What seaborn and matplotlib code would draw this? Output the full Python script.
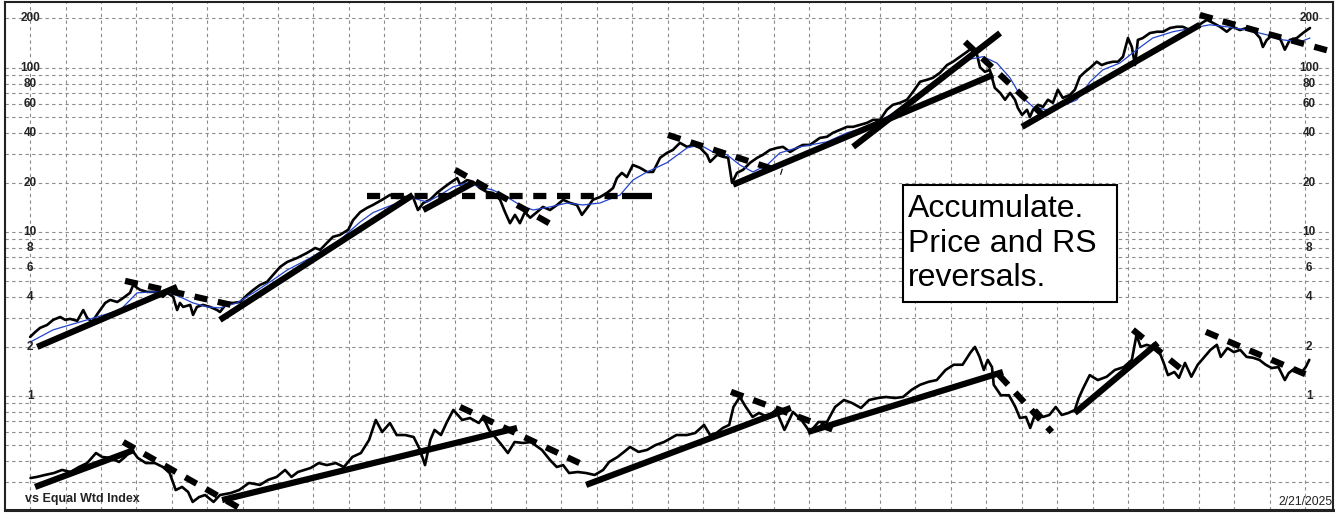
import matplotlib
matplotlib.use("Agg")
import matplotlib.pyplot as plt
import seaborn as sns
import pandas as pd
import numpy as np
from matplotlib.ticker import LogLocator, NullFormatter, FixedLocator
from matplotlib.patches import Rectangle

# ---------------- data ----------------
price_year = [1989.00,1989.14,1989.28,1989.48,1989.65,1989.85,1989.99,1990.13,1990.33,1990.50,
              1990.61,1990.75,1990.92,1991.12,1991.26,1991.46,1991.63,1991.82,1991.91,1992.02,
              1992.11,1992.30,1992.47,1992.67,1992.75,1992.87,1993.04,1993.15,1993.23,1993.32,
              1993.52,1993.60,1993.71,1993.88,1994.08,1994.28,1994.36,1994.56,1994.73,1994.93,
              1995.13,1995.30,1995.49,1995.69,1995.86,1996.06,1996.26,1996.54,1996.82,1997.05,
              1997.19,1997.38,1997.55,1997.75,1997.98,1998.12,1998.32,1998.51,1998.68,1998.94,
              1999.16,1999.36,1999.53,1999.81,1999.95,2000.10,2000.29,2000.49,2000.66,2000.86,
              2001.06,2001.14,2001.34,2001.51,2001.70,2001.90,2002.07,2002.27,2002.41,2002.55,
              2002.69,2002.83,2002.97,2003.12,2003.31,2003.48,2003.68,2003.88,2004.05,2004.25,
              2004.44,2004.58,2004.73,2004.89,2005.09,2005.29,2005.46,2005.57,2005.71,2005.85,
              2006.02,2006.22,2006.42,2006.59,2006.79,2006.98,2007.15,2007.35,2007.55,2007.72,
              2007.92,2008.11,2008.20,2008.40,2008.57,2008.71,2008.82,2008.96,2009.13,2009.33,
              2009.53,2009.69,2009.89,2010.09,2010.26,2010.46,2010.65,2010.82,2011.02,2011.30,
              2011.50,2011.67,2011.87,2012.07,2012.24,2012.43,2012.63,2012.80,2013.00,2013.19,
              2013.36,2013.56,2013.76,2013.93,2014.13,2014.32,2014.49,2014.69,2014.89,2015.06,
              2015.26,2015.45,2015.59,2015.74,2015.82,2015.96,2016.10,2016.24,2016.39,2016.53,
              2016.67,2016.81,2016.89,2017.01,2017.15,2017.23,2017.32,2017.46,2017.60,2017.74,
              2017.88,2018.02,2018.16,2018.36,2018.50,2018.64,2018.79,2018.93,2019.12,2019.26,
              2019.41,2019.58,2019.72,2019.86,2020.00,2020.11,2020.20,2020.28,2020.42,2020.62,
              2020.82,2020.99,2021.19,2021.38,2021.55,2021.75,2021.95,2022.09,2022.23,2022.40,
              2022.60,2022.79,2022.96,2023.16,2023.36,2023.53,2023.73,2023.81,2023.92,2024.09,
              2024.29,2024.43,2024.57,2024.77,2024.94,2025.14]
price_value = [2.29,2.45,2.60,2.71,2.91,3.03,2.91,2.95,2.87,3.34,
               2.99,2.83,3.21,3.69,3.85,3.74,3.96,4.25,4.75,4.56,
               4.43,4.31,4.31,4.25,4.02,4.25,4.02,3.34,3.69,3.49,
               3.59,3.12,3.49,3.59,3.49,3.34,3.25,3.69,3.69,3.74,
               4.13,4.43,4.75,4.96,5.47,6.12,6.56,6.94,7.45,7.98,
               7.77,8.57,9.33,9.59,10.3,11.8,13.2,14.0,14.6,15.7,
               16.8,16.1,16.3,16.3,13.6,15.0,15.7,17.3,18.5,19.9,
               21.3,19.4,20.7,20.2,18.5,17.5,17.3,15.7,13.2,11.3,
               12.7,11.3,13.2,12.2,13.2,14.2,13.6,14.6,15.7,15.0,
               14.6,12.7,14.0,15.7,16.3,17.3,18.5,21.3,22.9,21.6,
               25.6,24.6,23.2,23.2,28.3,30.3,31.6,34.9,33.0,33.9,
               32.5,29.5,26.7,29.5,28.7,28.3,19.9,22.9,23.9,26.4,
               28.3,29.5,31.6,32.5,33.0,30.7,32.5,33.9,33.9,37.4,
               38.0,40.2,41.9,43.7,43.7,44.9,46.2,48.2,48.2,55.5,
               59.5,61.2,63.9,71.4,82.3,84.5,86.9,93.3,104,109,
               117,125,132,120,101,94.6,97.2,75.5,70.4,63.9,
               70.4,63.9,57.0,51.7,55.5,50.2,55.5,59.5,57.8,63.9,
               61.2,73.5,65.6,68.4,73.5,88.2,94.6,100,109,104,
               107,109,109,117,152,134,104,148,152,163,
               166,166,175,178,178,170,178,188,196,188,
               178,166,178,170,175,170,152,134,148,159,
               152,129,148,152,163,175]

ma_year = [1989.00,1989.65,1990.61,1991.54,1992.02,1992.47,1992.87,1993.23,1993.60,1994.00,
           1994.36,1994.84,1995.30,1995.86,1996.26,1996.91,1997.75,1998.32,1998.68,1999.08,
           1999.45,1999.81,2000.21,2000.58,2000.94,2001.34,2001.70,2002.07,2002.47,2002.83,
           2003.20,2003.68,2004.16,2004.61,2005.09,2005.66,2006.02,2006.42,2006.98,2007.55,
           2007.92,2008.28,2008.68,2009.04,2009.41,2009.81,2010.17,2010.74,2011.50,2012.07,
           2012.63,2013.19,2013.76,2014.32,2014.89,2015.45,2015.91,2016.30,2016.67,2016.95,
           2017.32,2017.71,2018.08,2018.56,2018.93,2019.29,2019.77,2020.25,2020.70,2021.27,
           2021.83,2022.31,2022.79,2023.36,2023.92,2024.38,2024.86,2025.14]
ma_value = [2.13,2.53,2.91,3.34,4.25,4.31,4.31,4.02,3.69,3.49,
            3.44,3.69,4.25,5.10,5.86,6.94,8.94,11.5,13.1,14.2,
            15.2,16.1,15.2,16.8,18.8,19.9,18.8,18.0,16.3,14.6,
            13.6,14.2,15.0,14.6,15.0,16.8,20.7,23.2,26.4,32.5,
            33.9,30.7,29.5,25.6,23.2,25.6,30.3,33.0,35.4,40.2,
            43.7,50.2,59.5,75.5,93.3,112,117,107,86.9,68.4,
            57.8,55.5,57.8,63.9,82.3,97.2,107,129,152,166,
            175,183,178,170,159,148,144,152]

rs_year = [1989.01,1989.19,1989.42,1989.67,1989.90,1990.14,1990.38,1990.61,1990.86,1991.03,
           1991.27,1991.51,1991.68,1991.87,1992.04,1992.27,1992.52,1992.75,1992.94,1993.11,
           1993.29,1993.46,1993.59,1993.77,1993.94,1994.18,1994.36,1994.66,1994.90,1995.18,
           1995.49,1995.72,1995.96,1996.20,1996.38,1996.56,1996.92,1997.15,1997.38,1997.63,
           1997.86,1998.10,1998.34,1998.57,1998.76,1998.94,1999.16,1999.35,1999.59,1999.83,
           2000.01,2000.15,2000.30,2000.42,2000.60,2000.77,2000.95,2001.20,2001.42,2001.67,
           2001.79,2001.96,2002.27,2002.49,2002.68,2002.92,2003.14,2003.45,2003.68,2003.87,
           2004.05,2004.22,2004.46,2004.70,2004.94,2005.18,2005.35,2005.59,2005.77,2005.94,
           2006.18,2006.42,2006.66,2006.90,2007.25,2007.55,2007.78,2008.03,2008.20,2008.38,
           2008.56,2008.74,2008.86,2009.04,2009.21,2009.40,2009.58,2009.82,2010.06,2010.30,
           2010.54,2010.78,2011.02,2011.26,2011.50,2011.73,2011.98,2012.21,2012.46,2012.69,
           2012.94,2013.17,2013.42,2013.65,2013.89,2014.13,2014.37,2014.60,2014.85,2015.08,
           2015.33,2015.56,2015.68,2015.81,2015.93,2016.04,2016.16,2016.21,2016.41,2016.64,
           2016.82,2016.95,2017.12,2017.24,2017.42,2017.60,2017.78,2017.96,2018.13,2018.32,
           2018.50,2018.61,2018.74,2018.92,2019.15,2019.40,2019.63,2019.88,2020.11,2020.24,
           2020.36,2020.53,2020.72,2020.90,2021.01,2021.13,2021.31,2021.44,2021.61,2021.79,
           2021.97,2022.14,2022.33,2022.51,2022.62,2022.81,2022.99,2023.17,2023.35,2023.53,
           2023.71,2023.89,2024.06,2024.25,2024.43,2024.54,2024.72,2024.91,2025.02,2025.12]
rs_value = [0.316,0.321,0.330,0.339,0.354,0.344,0.369,0.390,0.449,0.425,
            0.419,0.396,0.425,0.469,0.419,0.390,0.390,0.369,0.339,0.267,
            0.279,0.260,0.226,0.242,0.249,0.226,0.249,0.256,0.267,0.295,
            0.287,0.308,0.321,0.354,0.321,0.344,0.364,0.390,0.379,0.390,
            0.369,0.425,0.449,0.539,0.714,0.603,0.684,0.578,0.578,0.562,
            0.469,0.379,0.539,0.621,0.578,0.694,0.822,0.714,0.734,0.684,
            0.745,0.621,0.517,0.449,0.524,0.517,0.524,0.469,0.407,0.369,
            0.379,0.339,0.344,0.339,0.330,0.354,0.396,0.425,0.456,0.489,
            0.456,0.469,0.502,0.524,0.578,0.578,0.595,0.666,0.578,0.595,
            0.638,0.666,0.857,0.986,0.857,0.745,0.788,0.745,0.822,0.621,
            0.799,0.714,0.603,0.694,0.694,0.857,0.945,0.906,0.845,0.945,
            0.972,0.986,0.972,0.986,1.09,1.17,1.22,1.25,1.44,1.55,
            1.55,1.85,1.99,1.73,1.44,1.66,1.50,1.17,1.01,1.01,
            0.857,0.734,0.745,0.638,0.822,0.745,0.766,0.857,0.766,0.788,
            0.822,0.972,1.12,1.34,1.25,1.31,1.44,1.50,1.66,2.35,
            1.99,2.05,1.99,1.83,1.59,1.34,1.40,1.29,1.59,1.31,
            1.55,1.71,1.91,2.05,1.73,1.96,1.85,1.91,1.73,1.71,
            1.66,1.55,1.48,1.50,1.25,1.38,1.48,1.40,1.50,1.66]

# trend lines: start year, start value, end year, end value, style
trend_x0 = [1989.20,1994.36,2000.10,2008.85,2012.24,2017.01,
            1991.68,1998.51,2005.71,2001.00,2007.01,2015.40,2022.03,
            1989.14,1994.42,2004.70,2010.96,2018.50,
            1991.63,2001.14,2008.79,2016.36,2022.20,2020.14]
trend_v0 = [1.99,2.91,13.6,19.4,33.0,43.7,
            5.03,16.6,16.6,23.9,39.0,144,210,
            0.279,0.232,0.287,0.603,0.788,
            0.524,0.857,1.06,1.34,2.46,2.53]
trend_x1 = [1993.15,1999.81,2001.51,2016.19,2016.39,2022.03,
            1994.93,2005.71,2006.56,2003.88,2010.23,2017.80,2025.79,
            1991.94,2002.75,2010.48,2016.47,2020.84,
            1994.90,2004.75,2011.92,2017.85,2025.25,2021.47]
trend_v1 = [4.62,16.8,19.9,90.6,163,183,
            3.49,16.6,16.6,10.6,23.2,46.9,125,
            0.469,0.638,0.845,1.40,2.10,
            0.208,0.369,0.595,0.603,1.29,1.48]
trend_style = ['solid','solid','solid','solid','solid','solid',
               'dashed','dashed','solid','dashed','dashed','dashed','dashed',
               'solid','solid','solid','solid','solid',
               'dashed','dashed','dashed','dashed','dashed','dashed']

grid_years = list(range(1989, 2026))
axis_labels = [200, 100, 80, 60, 40, 20, 10, 8, 6, 4, 2, 1]
box_text = "Accumulate.\nPrice and RS\nreversals."

# ---------------- plot ----------------
sns.set_style("white")
plt.rcParams['font.family'] = ['Liberation Sans', 'DejaVu Sans']

fig = plt.figure(figsize=(13.35, 5.16), dpi=100)
ax = fig.add_axes([5/1335, 6/516, 1328/1335, 508/516])
ax.set_yscale('log')

df_price = pd.DataFrame({'year': price_year, 'value': price_value})
df_ma = pd.DataFrame({'year': ma_year, 'value': ma_value})
df_rs = pd.DataFrame({'year': rs_year, 'value': rs_value})

sns.lineplot(data=df_price, x='year', y='value', ax=ax, color='black',
             lw=1.9, estimator=None, sort=False, zorder=3)
sns.lineplot(data=df_ma, x='year', y='value', ax=ax, color='#2244cc',
             lw=0.9, estimator=None, sort=False, zorder=4)
sns.lineplot(data=df_rs, x='year', y='value', ax=ax, color='black',
             lw=1.9, estimator=None, sort=False, zorder=3)

for x0, v0, x1, v1, st in zip(trend_x0, trend_v0, trend_x1, trend_v1, trend_style):
    ls = '-' if st == 'solid' else (0, (2.1, 1.7))
    ax.plot([x0, x1], [v0, v1], color='black', lw=4.5, ls=ls,
            solid_capstyle='butt', dash_capstyle='butt', zorder=5)

ax.set_xlim(1988.29, 2025.79)
ax.set_ylim(0.2018, 252)
ax.set_xlabel('')
ax.set_ylabel('')

ax.xaxis.set_major_locator(FixedLocator(grid_years))
ax.yaxis.set_major_locator(LogLocator(base=10))
ax.yaxis.set_minor_locator(LogLocator(base=10, subs=np.arange(2, 10)))
ax.yaxis.set_minor_formatter(NullFormatter())
gkw = dict(color='#8c8c8c', lw=0.8, ls=(0, (3, 3)))
ax.grid(which='both', axis='y', **gkw)
ax.grid(which='major', axis='x', **gkw)
ax.tick_params(which='both', length=0, labelleft=False, labelbottom=False)
ax.set_axisbelow(True)

for lab in axis_labels:
    ax.text(1989.0, lab, str(lab), ha='center', va='center', fontsize=8.5,
            fontweight='bold', color='#222222', zorder=6)
    ax.text(2025.12, lab, str(lab), ha='center', va='center', fontsize=8.5,
            fontweight='bold', color='#222222', zorder=6)

ax.text(20/1328, 8/508, "vs Equal Wtd Index", transform=ax.transAxes,
        ha='left', va='baseline', fontsize=9, fontweight='bold', color='#222222', zorder=6)
ax.text(0.9995, 5/508, "2/21/2025", transform=ax.transAxes,
        ha='right', va='baseline', fontsize=8.7, color='#222222', zorder=6)

rect = Rectangle((898/1328, 208/508), 214/1328, 117/508, transform=ax.transAxes,
                 facecolor='white', edgecolor='black', lw=1.5, zorder=7)
ax.add_patch(rect)
ax.text(903/1328, 316/508, box_text, transform=ax.transAxes, ha='left', va='top',
        fontsize=23, linespacing=1.2, color='black', zorder=8)

for sp in ax.spines.values():
    sp.set_color('#222222')
    sp.set_linewidth(1.5)
ax.spines['bottom'].set_linewidth(2.2)

fig.savefig('out.png', dpi=100)
